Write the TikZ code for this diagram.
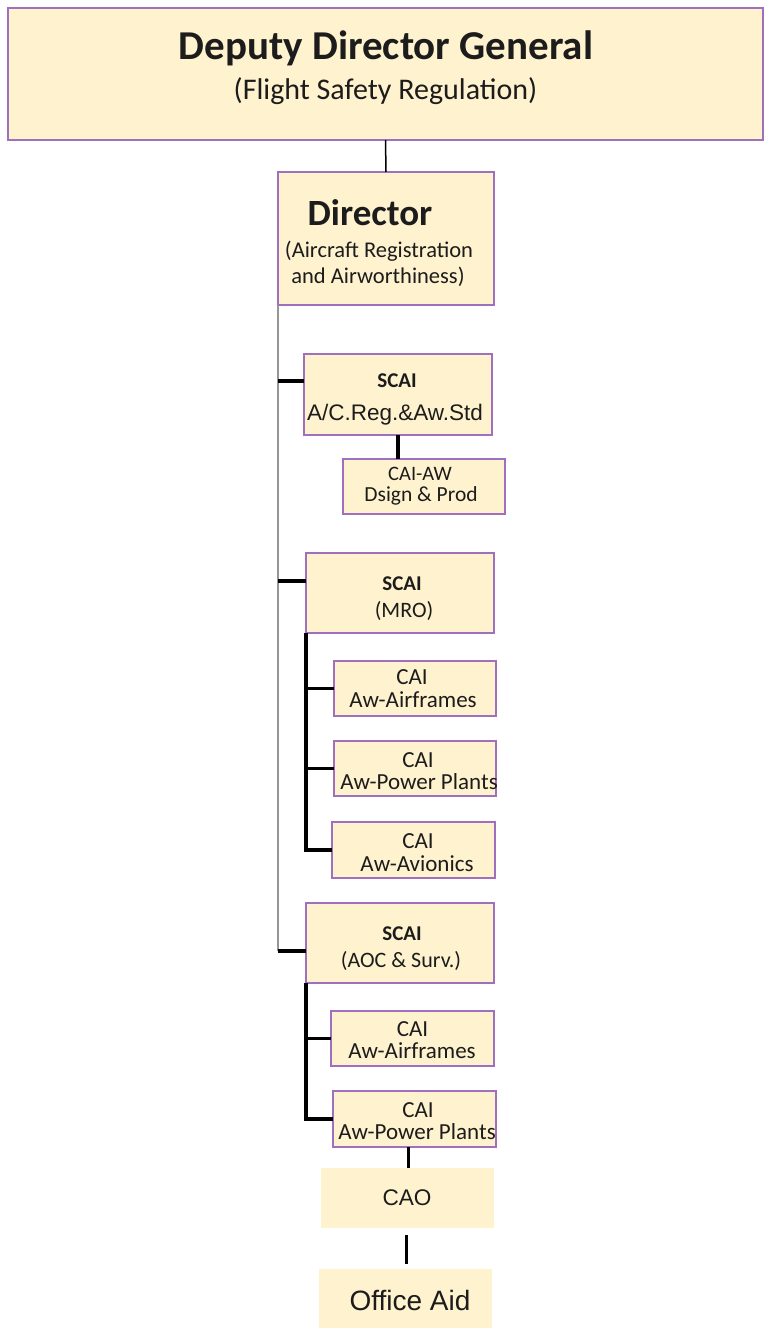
\documentclass[tikz,border=0pt]{standalone}
\usepackage{fontspec}
\setmainfont{Carlito}
\newfontfamily\arialf{Liberation Sans}
\newcommand\myfs[1]{\fontsize{#1}{#1}\selectfont}
\definecolor{boxfill}{RGB}{255,242,206}
\definecolor{boxborder}{RGB}{160,112,190}
\definecolor{trunkgray}{RGB}{150,150,150}
\definecolor{inktext}{RGB}{28,28,28}
\begin{document}
\begin{tikzpicture}[x=1pt,y=-1pt,
  box/.style={draw=boxborder, line width=2pt, fill=boxfill, inner sep=0pt, outer sep=0pt, anchor=north west},
  plainbox/.style={fill=boxfill, inner sep=0pt, outer sep=0pt, anchor=north west},
  txt/.style={anchor=base, inner sep=0pt, text=inktext},
  thinline/.style={line width=1.5pt, black},
  trunk/.style={line width=2pt, trunkgray},
  branch/.style={line width=3.2pt, black}]
\useasboundingbox (0,0) rectangle (764,1328);

% boxes
\node[box, minimum width=755pt, minimum height=132pt] (ddg) at (8,8) {};
\node[box, minimum width=216pt, minimum height=133pt] (dir) at (278,172) {};
\node[box, minimum width=188pt, minimum height=81pt] (s1) at (304,354) {};
\node[box, minimum width=162pt, minimum height=55pt] (caw) at (343,459) {};
\node[box, minimum width=188pt, minimum height=80pt] (s2) at (306,553) {};
\node[box, minimum width=162pt, minimum height=55pt] (c21) at (334,661) {};
\node[box, minimum width=162pt, minimum height=55pt] (c22) at (334,741) {};
\node[box, minimum width=163pt, minimum height=56pt] (c23) at (332,822) {};
\node[box, minimum width=188pt, minimum height=80pt] (s3) at (306,903) {};
\node[box, minimum width=163pt, minimum height=55pt] (c31) at (331,1011) {};
\node[box, minimum width=163pt, minimum height=56pt] (c32) at (333,1091) {};
\node[plainbox, minimum width=173pt, minimum height=60pt] (cao) at (321,1168) {};
\node[plainbox, minimum width=173pt, minimum height=59pt] (off) at (319,1269) {};

% texts
\node[txt, font=\bfseries\myfs{41}] (tddg) at (386,59) {Deputy Director General};
\node[txt, font=\myfs{30}] (tddg2) at (385.5,99) {(Flight Safety Regulation)};
\node[txt, font=\bfseries\myfs{37}] (tdir) at (370,225) {Director};
\node[txt, font=\myfs{22.5}] (tdir2) at (379,257) {(Aircraft Registration};
\node[txt, font=\myfs{22.5}] (tdir3) at (378,283) {and Airworthiness)};
\node[txt, font=\bfseries\myfs{21}] (ts1) at (397,387) {SCAI};
\node[txt, font=\arialf\myfs{22.5}] (ts1b) at (395,420) {A/C.Reg.\&Aw.Std};
\node[txt, font=\myfs{20.5}] (tcaw) at (420,480) {CAI-AW};
\node[txt, font=\myfs{21.5}] (tcaw2) at (421,501) {Dsign \& Prod};
\node[txt, font=\bfseries\myfs{21}] (ts2) at (402,590) {SCAI};
\node[txt, font=\myfs{22}] (ts2b) at (404,617) {(MRO)};
\node[txt, font=\myfs{23}] (tc21) at (412,684) {CAI};
\node[txt, font=\myfs{23}] (tc21b) at (413,707) {Aw-Airframes};
\node[txt, font=\myfs{23}] (tc22) at (418,767) {CAI};
\node[txt, font=\myfs{23}] (tc22b) at (419,789) {Aw-Power Plants};
\node[txt, font=\myfs{23}] (tc23) at (418,848) {CAI};
\node[txt, font=\myfs{23}] (tc23b) at (417,871) {Aw-Avionics};
\node[txt, font=\bfseries\myfs{21}] (ts3) at (402,940) {SCAI};
\node[txt, font=\myfs{22}] (ts3b) at (401,967) {(AOC \& Surv.)};
\node[txt, font=\myfs{23}] (tc31) at (412.5,1036) {CAI};
\node[txt, font=\myfs{23}] (tc31b) at (412,1058) {Aw-Airframes};
\node[txt, font=\myfs{23}] (tc32) at (418,1117) {CAI};
\node[txt, font=\myfs{23}] (tc32b) at (417,1139) {Aw-Power Plants};
\node[txt, font=\arialf\myfs{22.6}] (tcao) at (407,1205) {CAO};
\node[txt, font=\arialf\myfs{28}] (toff) at (410,1310) {Office Aid};

% connectors
\draw[thinline] (ddg.south) -- (dir.north);
\coordinate (j1) at (278,381);
\coordinate (j2) at (278,581);
\coordinate (j3) at (278,951);
\draw[trunk] (dir.south west) -- (j3);
\draw[branch] (j1) -- (s1.west |- j1);
\draw[branch] (j2) -- (s2.west |- j2);
\draw[branch] (j3) -- (s3.west |- j3);
\draw[branch] (caw.north -| 398,0) -- (s1.south -| 398,0);
\draw[branch] (s2.south west) |- (c23.west);
\draw[branch] (s2.south west |- c21.west) -- (c21.west);
\draw[branch] (s2.south west |- c22.west) -- (c22.west);
\draw[branch] (s3.south west) |- (c32.west);
\draw[branch] (s3.south west |- c31.west) -- (c31.west);
\draw[branch] (c32.south -| 408.5,0) -- (cao.north -| 408.5,0);
\draw[branch, shorten <=7pt, shorten >=5pt] (cao.south -| 406.5,0) -- (off.north -| 406.5,0);
\end{tikzpicture}
\end{document}
